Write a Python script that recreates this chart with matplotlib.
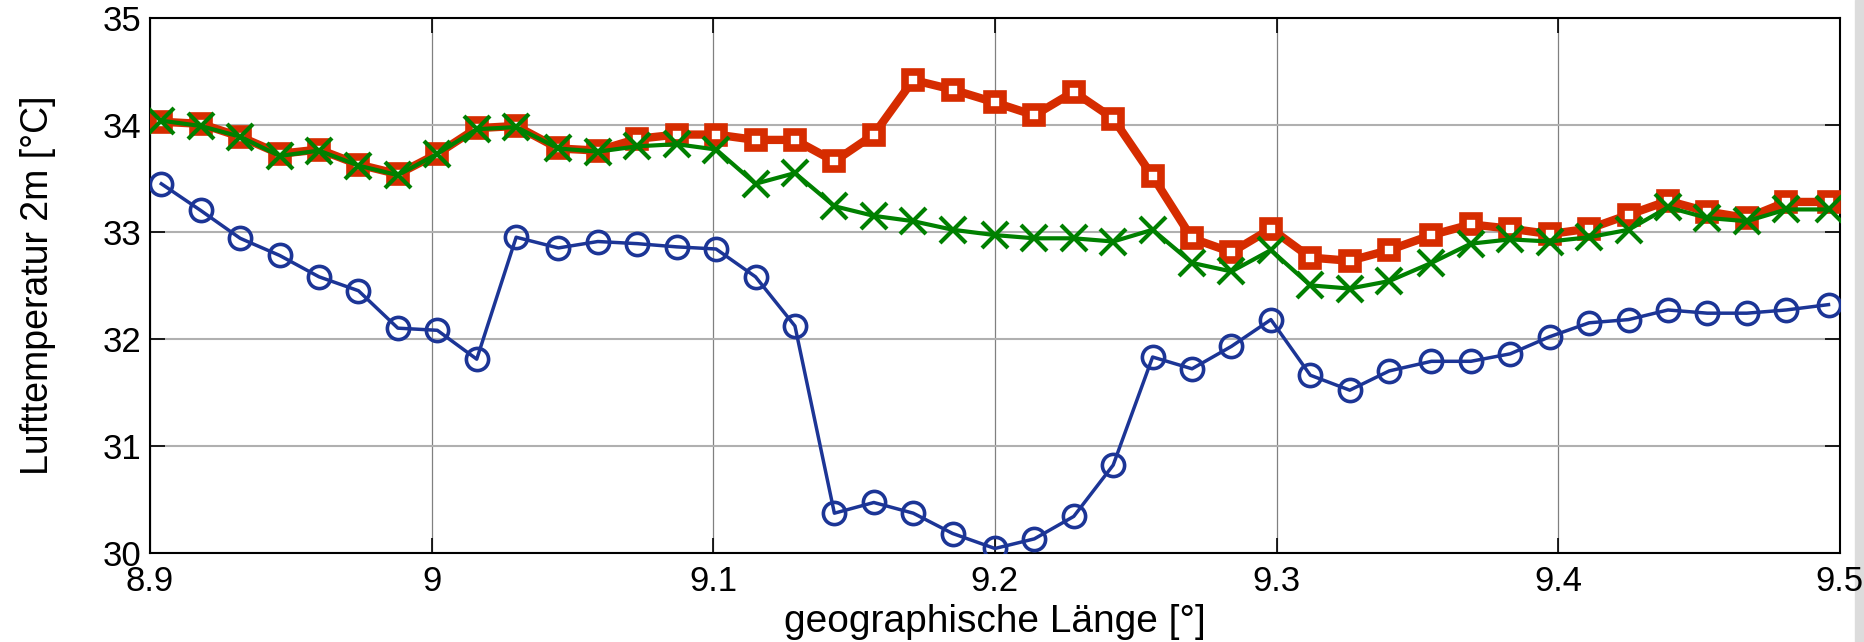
import matplotlib
matplotlib.use("Agg")
import matplotlib.pyplot as plt
from matplotlib.patches import Rectangle

# geographische Laenge der Messpunkte [deg]
lon = [8.904, 8.918, 8.932, 8.946, 8.960, 8.974, 8.988, 9.002, 9.016, 9.030,
       9.045, 9.059, 9.073, 9.087, 9.101, 9.115, 9.129, 9.143, 9.157, 9.171,
       9.185, 9.200, 9.214, 9.228, 9.242, 9.256, 9.270, 9.284, 9.298, 9.312,
       9.326, 9.340, 9.355, 9.369, 9.383, 9.397, 9.411, 9.425, 9.439, 9.453,
       9.467, 9.481, 9.496]

# Lufttemperatur 2m [degC]
t_red = [34.03, 34.01, 33.89, 33.73, 33.77, 33.63, 33.54, 33.73, 33.97, 33.99,
         33.78, 33.76, 33.87, 33.91, 33.91, 33.86, 33.86, 33.66, 33.91, 34.42,
         34.33, 34.21, 34.09, 34.31, 34.06, 33.52, 32.94, 32.81, 33.03, 32.76,
         32.73, 32.83, 32.97, 33.07, 33.03, 32.98, 33.03, 33.16, 33.29, 33.19,
         33.13, 33.28, 33.28]

t_green = [34.04, 33.99, 33.89, 33.71, 33.76, 33.62, 33.53, 33.73, 33.96, 33.98,
           33.78, 33.75, 33.80, 33.82, 33.77, 33.45, 33.55, 33.24, 33.15, 33.10,
           33.02, 32.97, 32.94, 32.94, 32.91, 33.02, 32.71, 32.63, 32.83, 32.50,
           32.47, 32.54, 32.71, 32.89, 32.93, 32.91, 32.95, 33.02, 33.23, 33.13,
           33.10, 33.21, 33.21]

t_blue = [33.45, 33.20, 32.94, 32.78, 32.58, 32.45, 32.10, 32.08, 31.81, 32.95,
          32.85, 32.91, 32.89, 32.86, 32.84, 32.58, 32.12, 30.37, 30.47, 30.37,
          30.18, 30.04, 30.13, 30.34, 30.82, 31.83, 31.72, 31.93, 32.18, 31.66,
          31.52, 31.70, 31.79, 31.79, 31.86, 32.02, 32.15, 32.18, 32.27, 32.24,
          32.24, 32.27, 32.32]

xticks = [8.9, 9.0, 9.1, 9.2, 9.3, 9.4, 9.5]
xticklabels = ['8.9', '9', '9.1', '9.2', '9.3', '9.4', '9.5']
yticks = [30, 31, 32, 33, 34, 35]

plt.rcParams['font.family'] = ['Liberation Sans', 'DejaVu Sans']

fig = plt.figure(figsize=(18.64, 6.42), dpi=100, facecolor='white')
ax = fig.add_axes([0.0805, 0.139, 0.9065, 0.833])

ax.plot(lon, t_red, color='#d62c00', lw=6, marker='s', ms=12, mew=5.5,
        mfc='white', mec='#d62c00', zorder=3)
ax.plot(lon, t_green, color='#008000', lw=3, marker='x', ms=19, mew=3,
        zorder=4)
ax.plot(lon, t_blue, color='#1c3596', lw=2.5, marker='o', ms=16, mew=2.6,
        mfc='none', mec='#1c3596', zorder=5)

ax.set_xlim(8.9, 9.5)
ax.set_ylim(30, 35)
ax.set_xticks(xticks)
ax.set_xticklabels(xticklabels)
ax.set_yticks(yticks)
ax.xaxis.grid(True, color='#808080', lw=0.9)
ax.yaxis.grid(True, color='#b0b0b0', lw=1.5)
ax.set_axisbelow(True)
ax.tick_params(direction='in', length=11, width=1.2, top=True, right=True,
               labelsize=25, colors='black')
ax.tick_params(axis='x', pad=9)
ax.tick_params(axis='y', pad=6)
for s in ax.spines.values():
    s.set_linewidth(1.5)

ax.set_xlabel('geographische Länge [°]', fontsize=28, labelpad=4)
ax.set_ylabel('Lufttemperatur 2m [°C]', fontsize=27, labelpad=34)

# grauer Rand rechts
fig.patches.append(Rectangle((1855 / 1864, 0), 9 / 1864, 1, transform=fig.transFigure,
                             color='#dcdcdc', zorder=-1))

fig.savefig('out.png', dpi=100)
